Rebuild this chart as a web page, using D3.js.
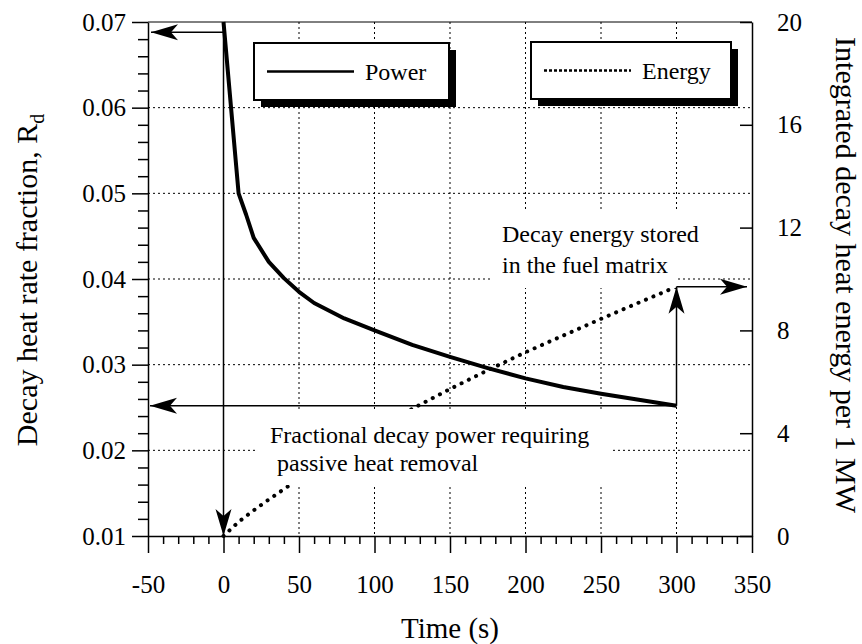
<!DOCTYPE html>
<html>
<head>
<meta charset="utf-8">
<script src="https://cdn.jsdelivr.net/npm/d3@7"></script>
<style>
  body { margin: 0; background: #fff; }
  svg { font-family: "Liberation Serif", "Times New Roman", serif; }
</style>
</head>
<body>
<svg width="862" height="644"></svg>
<script>
// decay power fraction (solid line)
const timePower = [0, 10, 15, 20, 30, 40, 50, 60, 80, 100, 125, 150, 175, 200, 225, 250, 275, 300];
const power = [0.07, 0.05, 0.0475, 0.0448, 0.042, 0.0401, 0.0385, 0.0372, 0.0354, 0.034, 0.0323, 0.0309, 0.0296, 0.0284, 0.0274, 0.0266, 0.0259, 0.0252];

// integrated decay energy (dotted line)
const timeEnergy = [0, 10, 20, 30, 40, 50, 75, 100, 125, 150, 175, 200, 225, 250, 275, 300];
const energy = [0, 0.55, 1.0, 1.42, 1.82, 2.22, 3.15, 4.05, 4.95, 5.72, 6.45, 7.15, 7.8, 8.45, 9.08, 9.7];

const xTicks = [-50, 0, 50, 100, 150, 200, 250, 300, 350];
const leftTicks = [0.01, 0.02, 0.03, 0.04, 0.05, 0.06, 0.07];
const rightTicks = [0, 4, 8, 12, 16, 20];
const gridX = [0, 50, 100, 150, 200, 250, 300];
const gridY = [0.02, 0.03, 0.04, 0.05, 0.06];

const serif = '"Liberation Serif", "Times New Roman", serif';
const svg = d3.select("svg");

const x = d3.scaleLinear().domain([-50, 350]).range([148, 752]);
const yL = d3.scaleLinear().domain([0.01, 0.07]).range([536, 22]);
const yR = d3.scaleLinear().domain([0, 20]).range([536, 22]);

// grid
const grid = svg.append("g")
  .attr("stroke", "#000")
  .attr("stroke-width", 1)
  .attr("stroke-dasharray", "2,3");
grid.selectAll(".gx").data(gridX).enter().append("line")
  .attr("x1", d => x(d)).attr("x2", d => x(d))
  .attr("y1", yL(0.07)).attr("y2", yL(0.01));
grid.selectAll(".gy").data(gridY).enter().append("line")
  .attr("x1", x(-50)).attr("x2", x(350))
  .attr("y1", d => yL(d)).attr("y2", d => yL(d));

// curves
const powerLine = d3.line()
  .x((d, i) => x(timePower[i]))
  .y(d => yL(d));
svg.append("path")
  .datum(power)
  .attr("fill", "none")
  .attr("stroke", "#000")
  .attr("stroke-width", 4)
  .attr("stroke-linejoin", "round")
  .attr("d", powerLine);

const energyLine = d3.line()
  .x((d, i) => x(timeEnergy[i]))
  .y(d => yR(d));
svg.append("path")
  .datum(energy)
  .attr("fill", "none")
  .attr("stroke", "#000")
  .attr("stroke-width", 4)
  .attr("stroke-linecap", "round")
  .attr("stroke-dasharray", "0.1,8")
  .attr("d", energyLine);

// annotation text with white backing
function note(x0, y0, w, h, lines, tx, ty, lh, indent) {
  svg.append("rect")
    .attr("x", x0).attr("y", y0).attr("width", w).attr("height", h)
    .attr("fill", "#fff");
  const t = svg.append("text")
    .style("font-family", serif)
    .attr("font-size", 24)
    .attr("x", tx).attr("y", ty);
  lines.forEach((s, i) => {
    t.append("tspan")
      .attr("x", tx + (indent[i] || 0))
      .attr("y", ty + i * lh)
      .text(s);
  });
}
note(490, 212, 188, 76, ["Decay energy stored", "in the fuel matrix"], 502, 242, 31, [0, 0]);
note(258, 409, 354, 76, ["Fractional decay power requiring", "passive heat removal"], 270, 443, 28, [0, 7]);

// arrows
function arrow(x1, y1, x2, y2) {
  svg.append("line")
    .attr("x1", x1).attr("y1", y1).attr("x2", x2).attr("y2", y2)
    .attr("stroke", "#000").attr("stroke-width", 1.5);
  const a = Math.atan2(y2 - y1, x2 - x1);
  const len = 27, hw = 8, notch = 7;
  const pt = (along, side) => [
    x2 - along * Math.cos(a) - side * Math.sin(a),
    y2 - along * Math.sin(a) + side * Math.cos(a)
  ];
  const pts = [[x2, y2], pt(len, hw), pt(len - notch, 0), pt(len, -hw)];
  svg.append("polygon")
    .attr("points", pts.map(p => p.join(",")).join(" "))
    .attr("fill", "#000");
}
const pEnd = power[power.length - 1];
const eEnd = energy[energy.length - 1];
arrow(x(0), yL(0.0688), x(-50) + 3, yL(0.0688));
arrow(x(0), yL(0.07), x(0), yL(0.01));
arrow(x(300), yL(pEnd), x(-50) + 2, yL(pEnd));
arrow(x(300), yL(pEnd), x(300), yR(eEnd));
arrow(x(300), yR(eEnd), x(350) - 5, yR(eEnd));

// legend boxes with drop shadow
function legendBox(x0, y0, w, h, label, dashed) {
  svg.append("rect")
    .attr("x", x0 + 7).attr("y", y0 + 7).attr("width", w).attr("height", h)
    .attr("fill", "#000");
  svg.append("rect")
    .attr("x", x0).attr("y", y0).attr("width", w).attr("height", h)
    .attr("fill", "#fff").attr("stroke", "#000").attr("stroke-width", 2);
  svg.append("line")
    .attr("x1", x0 + 13).attr("x2", x0 + 100)
    .attr("y1", y0 + h / 2).attr("y2", y0 + h / 2)
    .attr("stroke", "#000")
    .attr("stroke-width", dashed ? 2.5 : 2.5)
    .attr("stroke-dasharray", dashed ? "3,2" : null);
  svg.append("text")
    .attr("x", x0 + 111).attr("y", y0 + h / 2 + 8)
    .style("font-family", serif)
    .attr("font-size", 24)
    .text(label);
}
legendBox(254, 43, 195, 57, "Power", false);
legendBox(531, 42, 200, 57, "Energy", true);

// axes
const axes = svg.append("g");

const xAxis = axes.append("g")
  .attr("transform", `translate(0,${yL(0.01)})`)
  .call(d3.axisBottom(x).tickValues(xTicks).tickSize(17).tickSizeOuter(0)
    .tickFormat(d => String(d)));
xAxis.selectAll("text").attr("y", 57).attr("dy", 0);

const xMinor = d3.range(-50, 351, 10).filter(d => d % 50 !== 0);
axes.append("g")
  .attr("transform", `translate(0,${yL(0.01)})`)
  .call(d3.axisBottom(x).tickValues(xMinor).tickSize(8).tickSizeOuter(0).tickFormat(""))
  .select(".domain").remove();

const lAxis = axes.append("g")
  .attr("transform", `translate(${x(-50)},0)`)
  .call(d3.axisLeft(yL).tickValues(leftTicks).tickSize(16).tickSizeOuter(0).tickPadding(6)
    .tickFormat(d3.format(".2f")));

const lMinor = d3.range(0.012, 0.07, 0.002).filter((d, i) => (i + 1) % 5 !== 0);
axes.append("g")
  .attr("transform", `translate(${x(-50)},0)`)
  .call(d3.axisLeft(yL).tickValues(lMinor).tickSize(10).tickSizeOuter(0).tickFormat(""))
  .select(".domain").remove();

const rAxis = axes.append("g")
  .attr("transform", `translate(${x(350)},0)`)
  .call(d3.axisRight(yR).tickValues(rightTicks).tickSize(-12).tickSizeOuter(0).tickPadding(25));

axes.selectAll("text")
  .style("font-family", serif)
  .attr("font-size", 25);

// top border
axes.append("line")
  .attr("x1", x(-50)).attr("x2", x(350))
  .attr("y1", yL(0.07)).attr("y2", yL(0.07))
  .attr("stroke", "#000");

axes.selectAll("path.domain, .tick line").attr("stroke-width", 1.5);

// titles
svg.append("text")
  .attr("transform", `translate(${x(150)},638)`)
  .attr("text-anchor", "middle")
  .style("font-family", serif)
  .attr("font-size", 29)
  .text("Time (s)");

const lt = svg.append("text")
  .attr("transform", "translate(37,280) rotate(-90)")
  .attr("text-anchor", "middle")
  .style("font-family", serif)
  .attr("font-size", 30)
  .text("Decay heat rate fraction, R");
lt.append("tspan").attr("font-size", 20).attr("dy", 7).text("d");

svg.append("text")
  .attr("transform", "translate(836,275) rotate(90)")
  .attr("text-anchor", "middle")
  .style("font-family", serif)
  .attr("font-size", 30)
  .text("Integrated decay heat energy per 1 MW");
</script>
</body>
</html>
